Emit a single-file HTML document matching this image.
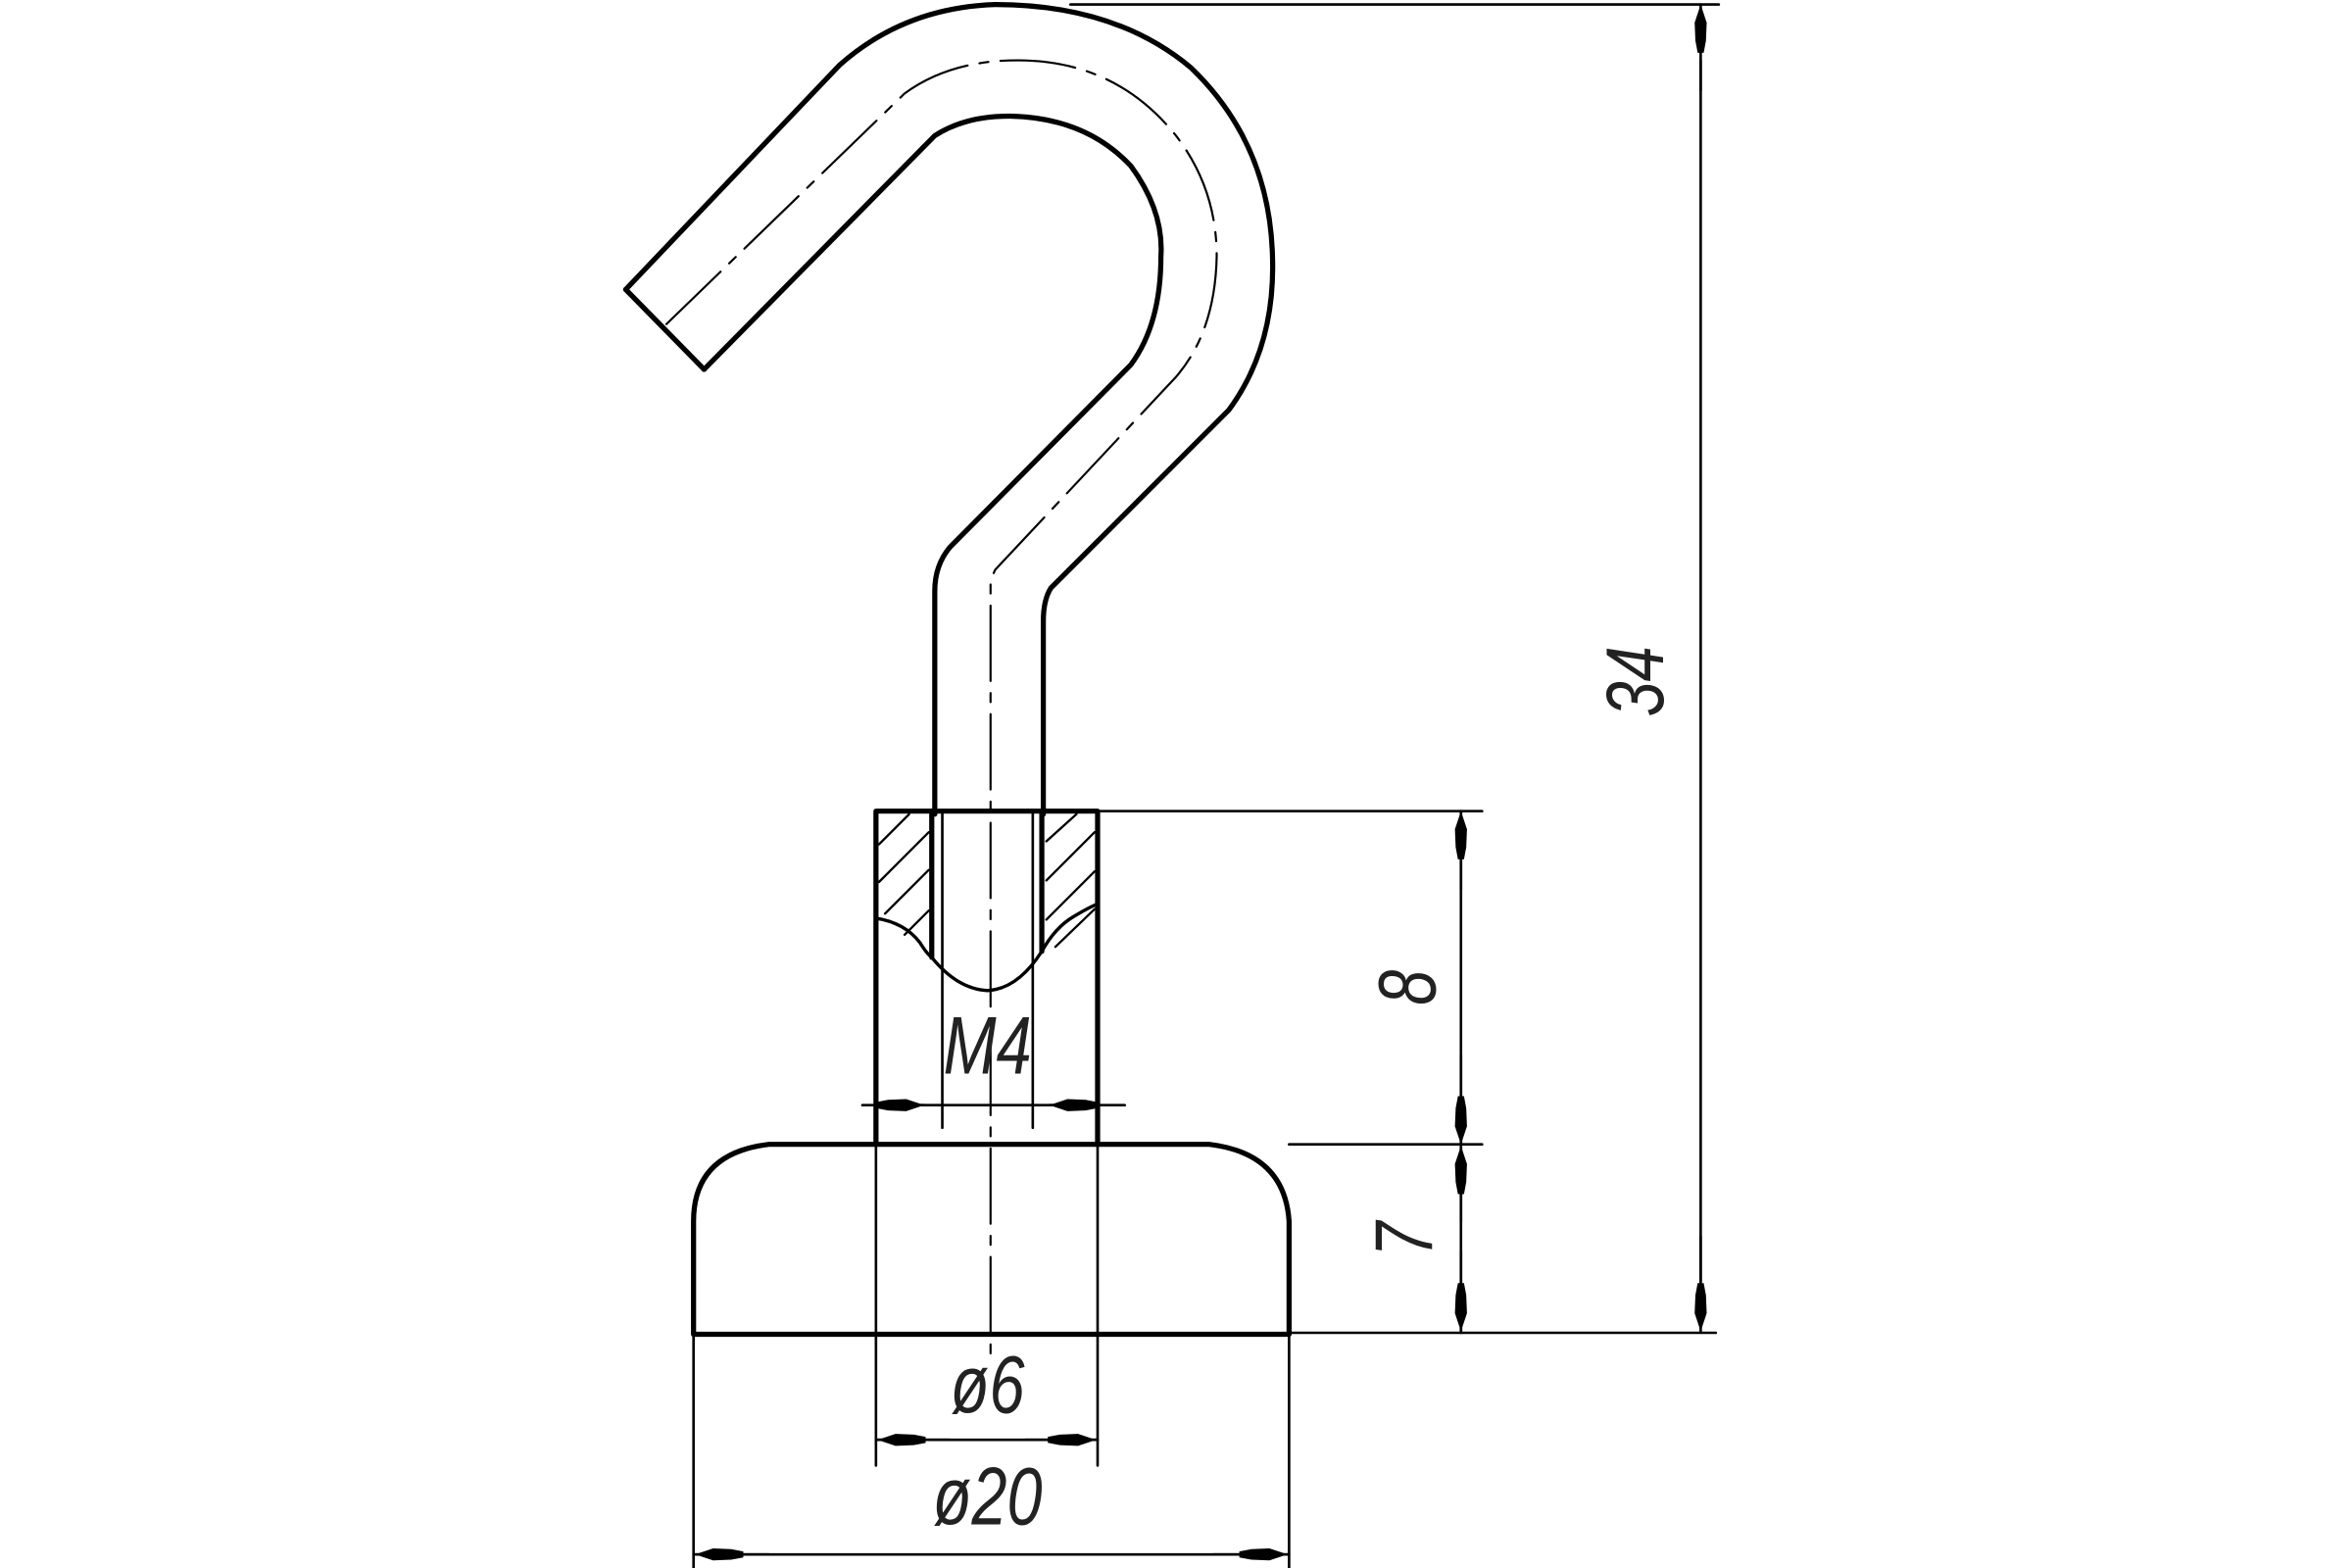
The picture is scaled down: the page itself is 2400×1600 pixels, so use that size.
<!DOCTYPE html>
<html><head><meta charset="utf-8"><style>
html,body{margin:0;padding:0;background:#fff;}
svg{display:block;}
text{font-family:"Liberation Sans",sans-serif;font-style:italic;fill:#222;}
</style></head><body>
<svg width="2400" height="1600" viewBox="0 0 1560 1040" preserveAspectRatio="none" xmlns="http://www.w3.org/2000/svg">
<defs>
<marker id="a" viewBox="0 0 32 12" refX="32" refY="6" markerWidth="32" markerHeight="12" markerUnits="userSpaceOnUse" orient="auto">
<path d="M0,4 L8,2.5 L20,2 L32,6 L20,10 L8,9.5 L0,8 Z" fill="#000"/>
</marker>
</defs>
<g fill="none" stroke="#000" stroke-linecap="round" stroke-linejoin="round">
<path stroke-width="3.4" d="M415,192 L557,43 Q600,5 660,3 Q740,3 790,45 Q842,95 844,170 Q846,230 815,272 L697,390 Q692,398 692,412 L692,540"/>
<path stroke-width="3.4" d="M467,245 L620,90 Q640,77 670,77 Q720,78 750,110 Q772,140 770,170 Q770,215 750,242 L630,363 Q620,375 620,392 L620,540"/>
<path stroke-width="3.4" d="M415,192 L467,245"/>
<path stroke-width="1.4" stroke-dasharray="50,8,6,8" d="M442,215 L600,62 Q630,40 675,40 Q740,40 780,90 Q807,125 807,170 Q806,220 780,250 L660,378 L657,385 L657,905"/>
<path stroke-width="3.4" d="M581,538 L728,538 M581,538 L581,759 M728,538 L728,759"/>
<path stroke-width="3.4" d="M618,538 L618,635 M691,538 L691,631"/>
<path stroke-width="1.7" d="M625,538 L625,748 M685,538 L685,748"/>
<path stroke-width="2.2" d="M581,609 Q600,612 610,625 Q615,633 618,635 Q635,656 655,657 Q675,656 691,631 M691,631 Q700,615 712,608 Q722,602 727,600"/>
<g stroke-width="1.5">
<path d="M583,560 L603,540 M583,585 L616,552 M587,606 L616,577 M600,620 L616,604"/>
<path d="M694,558 L714,540 M694,584 L726,552 M694,610 L726,578 M700,628 L726,603"/>
</g>
<path stroke-width="3.4" d="M460,885 L460,810 Q460,765 510,759 L802,759 Q852,765 855,810 L855,885 Z"/>
<g stroke-width="1.7">
<path d="M710,3 L1140,3"/>
<path d="M728,538 L983,538"/>
<path d="M855,759 L983,759"/>
<path d="M855,884 L1138,884"/>
<path d="M581,759 L581,972 M728,759 L728,972"/>
<path d="M460,885 L460,1040 M855,885 L855,1040"/>
<path d="M572,733 L746,733"/>
</g>
<g stroke-width="1.7">
<line x1="1128" y1="60" x2="1128" y2="3" marker-end="url(#a)"/>
<line x1="1128" y1="820" x2="1128" y2="883" marker-end="url(#a)"/>
<line x1="1128" y1="40" x2="1128" y2="850"/>
<line x1="969" y1="538" x2="969" y2="759"/>
<line x1="969" y1="590" x2="969" y2="538" marker-end="url(#a)"/>
<line x1="969" y1="700" x2="969" y2="759" marker-end="url(#a)"/>
<line x1="969" y1="759" x2="969" y2="884"/>
<line x1="969" y1="810" x2="969" y2="760" marker-end="url(#a)"/>
<line x1="969" y1="830" x2="969" y2="883" marker-end="url(#a)"/>
<line x1="581" y1="733" x2="613" y2="733" marker-end="url(#a)"/>
<line x1="728" y1="733" x2="696" y2="733" marker-end="url(#a)"/>
<line x1="581" y1="955" x2="728" y2="955"/>
<line x1="630" y1="955" x2="582" y2="955" marker-end="url(#a)"/>
<line x1="680" y1="955" x2="727" y2="955" marker-end="url(#a)"/>
<line x1="460" y1="1031" x2="855" y2="1031"/>
<line x1="510" y1="1031" x2="461" y2="1031" marker-end="url(#a)"/>
<line x1="805" y1="1031" x2="854" y2="1031" marker-end="url(#a)"/>
</g>
</g>
<g font-size="54">
<text x="0" y="0" text-anchor="middle" transform="translate(1103,452) rotate(-90) scale(0.78,1)">34</text>
<text x="0" y="0" text-anchor="middle" transform="translate(952,655) rotate(-90) scale(0.78,1)">8</text>
<text x="0" y="0" text-anchor="middle" transform="translate(950,822) rotate(-90) scale(0.78,1)">7</text>
<text x="0" y="0" text-anchor="middle" transform="translate(655,712) scale(0.78,1)">M4</text>
<text x="0" y="0" text-anchor="middle" transform="translate(655,937) scale(0.78,1)">ø6</text>
<text x="0" y="0" text-anchor="middle" transform="translate(655,1011) scale(0.78,1)">ø20</text>
</g>
</svg>
</body></html>
